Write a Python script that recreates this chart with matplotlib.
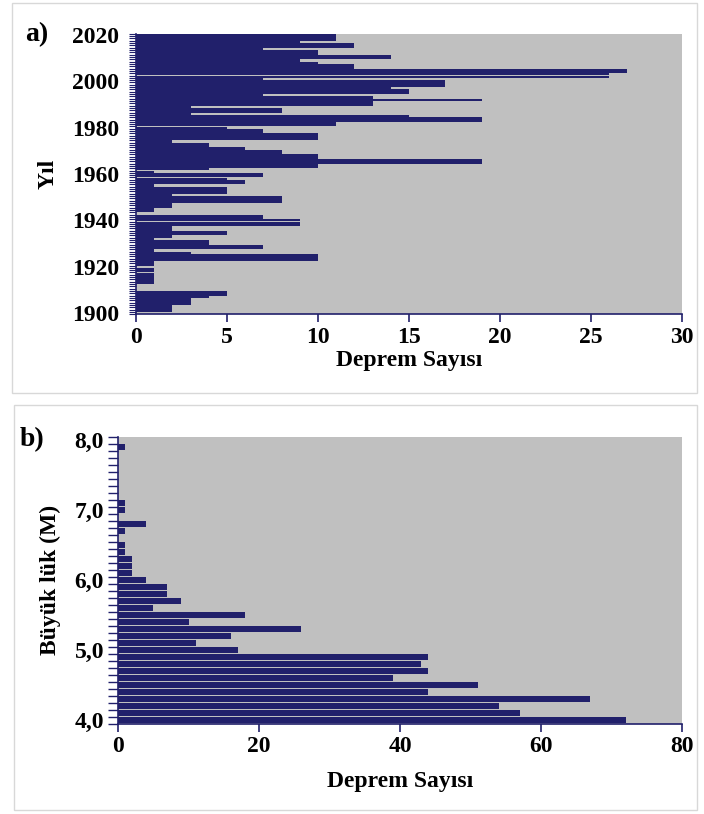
import numpy as np
import matplotlib
matplotlib.use("Agg")
import matplotlib.pyplot as plt
from matplotlib.patches import Rectangle

plt.rcParams['font.family'] = ['Liberation Serif', 'DejaVu Serif']
plt.rcParams['font.weight'] = 'bold'

# ---------------- data ----------------
years = list(range(1900, 2021))
year_counts = [
    0, 2, 2, 2, 3, 3, 3, 4, 5, 5,        # 1900-1909
    0, 0, 0, 1, 1, 1, 1, 1, 1, 1,        # 1910-1919
    0, 1, 1, 10, 10, 10, 3, 1, 7, 7,     # 1920-1929
    4, 4, 1, 2, 5, 5, 2, 2, 9, 9,        # 1930-1939
    9, 7, 7, 0, 1, 1, 2, 2, 8, 8,        # 1940-1949
    8, 2, 5, 5, 5, 1, 6, 6, 5, 7,        # 1950-1959
    7, 1, 4, 10, 10, 19, 19, 10, 10, 8,  # 1960-1969
    8, 6, 4, 4, 2, 10, 10, 10, 7, 7,     # 1970-1979
    5, 11, 11, 19, 19, 15, 3, 8, 8, 3,   # 1980-1989
    13, 13, 19, 13, 7, 15, 15, 14, 17, 17,  # 1990-1999
    17, 7, 26, 26, 27, 27, 12, 12, 10, 9,   # 2000-2009
    14, 14, 10, 10, 7, 12, 12, 9, 11, 11,   # 2010-2019
    11,                                     # 2020
]
year_ticks = [1900, 1920, 1940, 1960, 1980, 2000, 2020]
count_ticks_a = [0, 5, 10, 15, 20, 25, 30]

magnitudes = [4.0, 4.1, 4.2, 4.3, 4.4, 4.5, 4.6, 4.7, 4.8, 4.9,
              5.0, 5.1, 5.2, 5.3, 5.4, 5.5, 5.6, 5.7, 5.8, 5.9,
              6.0, 6.1, 6.2, 6.3, 6.4, 6.5, 6.6, 6.7, 6.8, 6.9,
              7.0, 7.1, 7.2, 7.3, 7.4, 7.5, 7.6, 7.7, 7.8, 7.9, 8.0]
mag_counts = [72, 57, 54, 67, 44, 51, 39, 44, 43, 44,
              17, 11, 16, 26, 10, 18, 5, 9, 7, 7,
              4, 2, 2, 2, 1, 1, 0, 1, 4, 0,
              1, 1, 0, 0, 0, 0, 0, 0, 0, 1, 0]
mag_ticks = [4.0, 5.0, 6.0, 7.0, 8.0]
mag_tick_labels = ["4,0", "5,0", "6,0", "7,0", "8,0"]
count_ticks_b = [0, 20, 40, 60, 80]

xlabel = "Deprem Sayısı"
ylabel_a = "Yıl"
ylabel_b = "Büyük lük (M)"

# ---------------- style ----------------
NAVY = '#21206B'
BG = '#C0C0C0'
FS = 17

W, H = 704, 814
fig = plt.figure(figsize=(W / 100, H / 100), dpi=100)
fig.patch.set_facecolor('white')


def rect(l, t, r, b):
    return [l / W, 1 - b / H, (r - l) / W, (b - t) / H]


# panel frames
for (l, t, r, b) in [(12, 3, 697, 393), (14, 405, 697, 810)]:
    fig.patches.append(Rectangle((l / W, 1 - b / H), (r - l) / W, (b - t) / H,
                                 transform=fig.transFigure, fill=False,
                                 edgecolor='#D8D8D8', linewidth=1.0))


def style_axes(ax):
    ax.set_facecolor(BG)
    for s in ['top', 'right']:
        ax.spines[s].set_visible(False)
    for s in ['left', 'bottom']:
        ax.spines[s].set_color(NAVY)
        ax.spines[s].set_linewidth(1.2)
    ax.tick_params(axis='x', which='major', direction='out', length=6,
                   width=1.2, color=NAVY, labelsize=FS, pad=3)
    ax.tick_params(axis='y', which='major', length=0, labelsize=FS, pad=10)
    ax.tick_params(axis='y', which='minor', direction='out', length=7,
                   width=1.0, color=NAVY)
    for lab in ax.get_xticklabels() + ax.get_yticklabels():
        lab.set_fontweight('bold')


# ---------------- panel a ----------------
ax1 = fig.add_axes(rect(136, 33.8, 682, 314.2))
ax1.barh(years, year_counts, height=0.97, color=NAVY, edgecolor='none')
ax1.set_xlim(0, 30)
ax1.set_ylim(1899.5, 2020.5)
ax1.set_xticks(count_ticks_a)
ax1.set_xticklabels([str(v) for v in count_ticks_a])
ax1.set_yticks(year_ticks)
ax1.set_yticklabels([str(v) for v in year_ticks])
ax1.set_yticks(np.arange(1899.5, 2021, 1), minor=True)
style_axes(ax1)
ax1.tick_params(axis='y', which='minor', length=5, width=0.8)
ax1.tick_params(axis='y', which='major', pad=12)
ax1.set_xlabel(xlabel, fontsize=FS, fontweight='bold', labelpad=2)
ax1.set_ylabel(ylabel_a, fontsize=FS, fontweight='bold', labelpad=10)

fig.text(25 / W, 1 - 35 / H, "a)", fontsize=20, fontweight='bold',
         ha='left', va='center')

# ---------------- panel b ----------------
ax2 = fig.add_axes(rect(118, 436.5, 682, 723.5))
ax2.barh(magnitudes, mag_counts, height=0.088, color=NAVY, edgecolor='none')
ax2.set_xlim(0, 80)
ax2.set_ylim(3.95, 8.05)
ax2.set_xticks(count_ticks_b)
ax2.set_xticklabels([str(v) for v in count_ticks_b])
ax2.set_yticks(mag_ticks)
ax2.set_yticklabels(mag_tick_labels)
ax2.set_yticks(np.arange(3.95, 8.06, 0.1), minor=True)
style_axes(ax2)
ax2.set_xlabel(xlabel, fontsize=FS, fontweight='bold', labelpad=10)
ax2.set_ylabel(ylabel_b, fontsize=FS, fontweight='bold', labelpad=10)

fig.text(20 / W, 1 - 440 / H, "b)", fontsize=20, fontweight='bold',
         ha='left', va='center')

fig.savefig("out.png", dpi=100, facecolor='white')
